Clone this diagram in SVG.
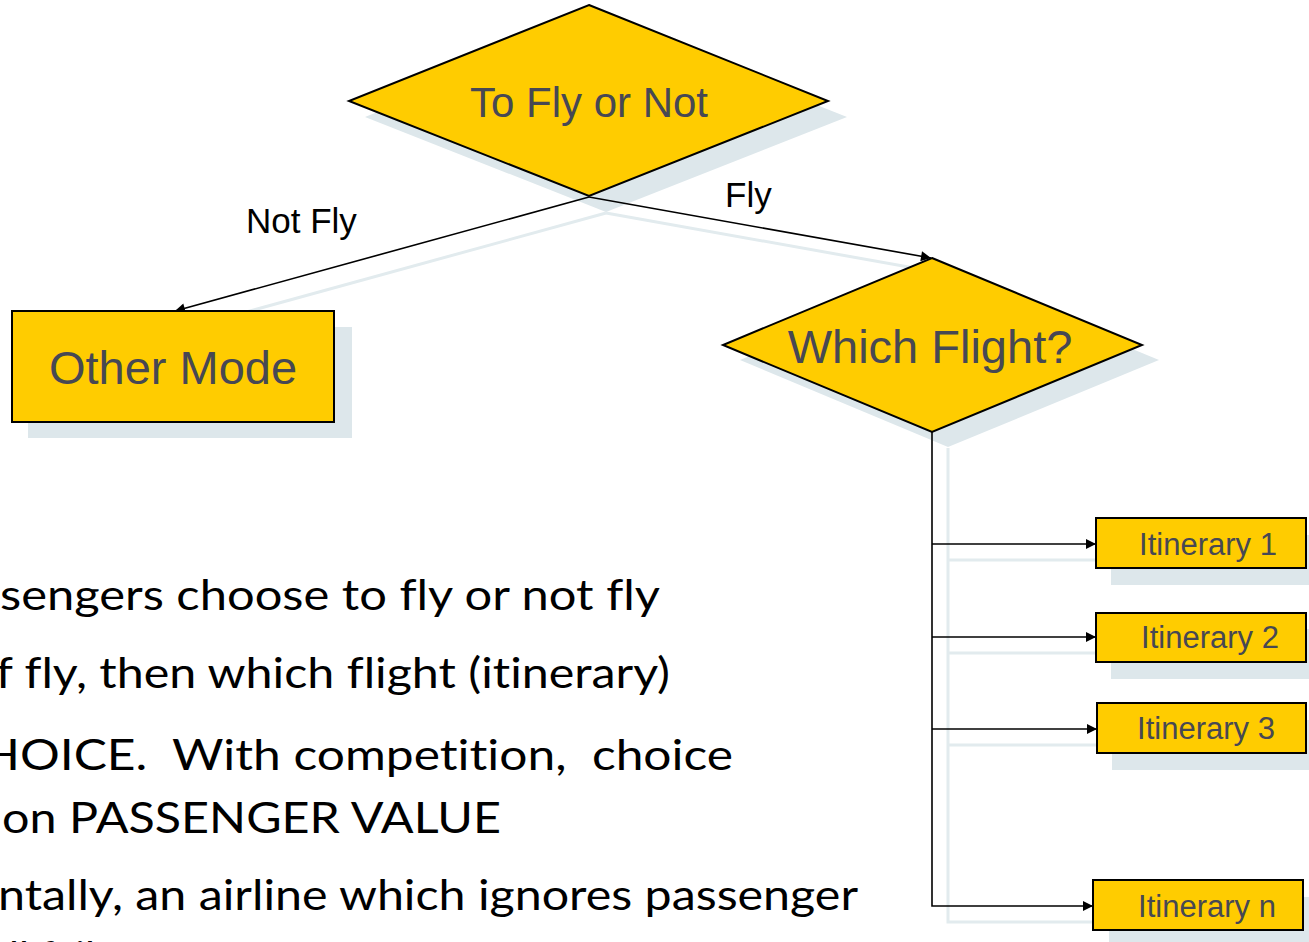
<svg xmlns="http://www.w3.org/2000/svg" width="1309" height="942" viewBox="0 0 1309 942">
<style>
.sh{fill:#dde7eb;stroke:none}
.csh{fill:none;stroke:#e2ebee;stroke-width:3}
.node{fill:#ffcc00;stroke:#000;stroke-width:2}
.nt{font-family:"Liberation Sans",Arial,sans-serif;fill:#474853;text-anchor:middle}
.lbl{font-family:"Liberation Sans",Arial,sans-serif;fill:#000;font-size:35px}
.conn{fill:none;stroke:#000;stroke-width:1.6}
.body{font-family:Lato,"Open Sans",sans-serif;font-size:42px;fill:#000;white-space:pre;font-variant-ligatures:none}
</style>
<defs>
<marker id="ah" viewBox="0 0 10 10" refX="10" refY="5" markerWidth="11" markerHeight="10" markerUnits="userSpaceOnUse" orient="auto">
<path d="M0,0 L10,5 L0,10 z" fill="#000"/>
</marker>
<marker id="ah2" viewBox="0 0 10 10" refX="10" refY="5" markerWidth="12" markerHeight="10" markerUnits="userSpaceOnUse" orient="auto">
<path d="M0,0 L10,5 L0,10 z" fill="#000"/>
</marker>
</defs>
<rect width="1309" height="942" fill="#fff"/>
<g id="shadows">
<polyline class="csh" points="606,213 192,327"/>
<polyline class="csh" points="606,213 948,274"/>
<polyline class="csh" points="948,448 948,922 1110,922"/>
<line class="csh" x1="948" y1="560" x2="1112" y2="560"/>
<line class="csh" x1="948" y1="653" x2="1112" y2="653"/>
<line class="csh" x1="948" y1="745" x2="1112" y2="745"/>
<polygon class="sh" points="606,21 847,117 606,212 365,117"/>
<rect class="sh" x="28" y="327" width="324" height="111"/>
<polygon class="sh" points="948,273 1159,360 948,447 740,360"/>
<rect class="sh" x="1111" y="535" width="210" height="50"/>
<rect class="sh" x="1111" y="629" width="210" height="50"/>
<rect class="sh" x="1112" y="720" width="210" height="50"/>
<rect class="sh" x="1109" y="897" width="210" height="50"/>
</g>
<g id="connectors">
<line class="conn" x1="589" y1="197" x2="175" y2="311" marker-end="url(#ah2)"/>
<line class="conn" x1="589" y1="197" x2="931" y2="258" marker-end="url(#ah2)"/>
<polyline class="conn" points="932,432 932,906 1093,906" marker-end="url(#ah)"/>
<line class="conn" x1="932" y1="544" x2="1096" y2="544" marker-end="url(#ah)"/>
<line class="conn" x1="932" y1="637" x2="1096" y2="637" marker-end="url(#ah)"/>
<line class="conn" x1="932" y1="729" x2="1097" y2="729" marker-end="url(#ah)"/>
<text class="lbl" x="246" y="233">Not Fly</text>
<text class="lbl" x="725" y="207">Fly</text>
</g>
<g id="to-fly">
<polygon class="node" points="589,5 828,101 589,196 349,101"/>
<text class="nt" x="589" y="117" font-size="42">To Fly or Not</text>
</g>
<g id="other-mode">
<rect class="node" x="12" y="311" width="322" height="111"/>
<text class="nt" x="173" y="384" font-size="47">Other Mode</text>
</g>
<g id="which-flight">
<polygon class="node" points="932,258 1142,345 932,432 723,345"/>
<text class="nt" x="930" y="363" font-size="47">Which Flight?</text>
</g>
<g id="itin-1">
<rect class="node" x="1096" y="518" width="210" height="50"/>
<text class="nt" x="1208" y="555" font-size="31">Itinerary 1</text>
</g>
<g id="itin-2">
<rect class="node" x="1096" y="613" width="210" height="49"/>
<text class="nt" x="1210" y="648" font-size="31">Itinerary 2</text>
</g>
<g id="itin-3">
<rect class="node" x="1097" y="703" width="209" height="50"/>
<text class="nt" x="1206" y="739" font-size="31">Itinerary 3</text>
</g>
<g id="itin-n">
<rect class="node" x="1093" y="880" width="210" height="50"/>
<text class="nt" x="1207" y="917" font-size="31">Itinerary n</text>
</g>
<g id="body-text">
<text class="body" x="0" y="610" textLength="660" lengthAdjust="spacingAndGlyphs">sengers choose to fly or not fly</text>
<text class="body" x="-4" y="688" textLength="674" lengthAdjust="spacingAndGlyphs">f fly, then which flight (itinerary)</text>
<text class="body" x="-18" y="770" textLength="751" lengthAdjust="spacingAndGlyphs">HOICE.  With competition,  choice</text>
<text class="body" x="2" y="833" textLength="499" lengthAdjust="spacingAndGlyphs">on PASSENGER VALUE</text>
<text class="body" x="-2" y="910" textLength="860" lengthAdjust="spacingAndGlyphs">ntally, an airline which ignores passenger</text>
<text class="body" x="9" y="972">ll fail</text>
</g>
</svg>
